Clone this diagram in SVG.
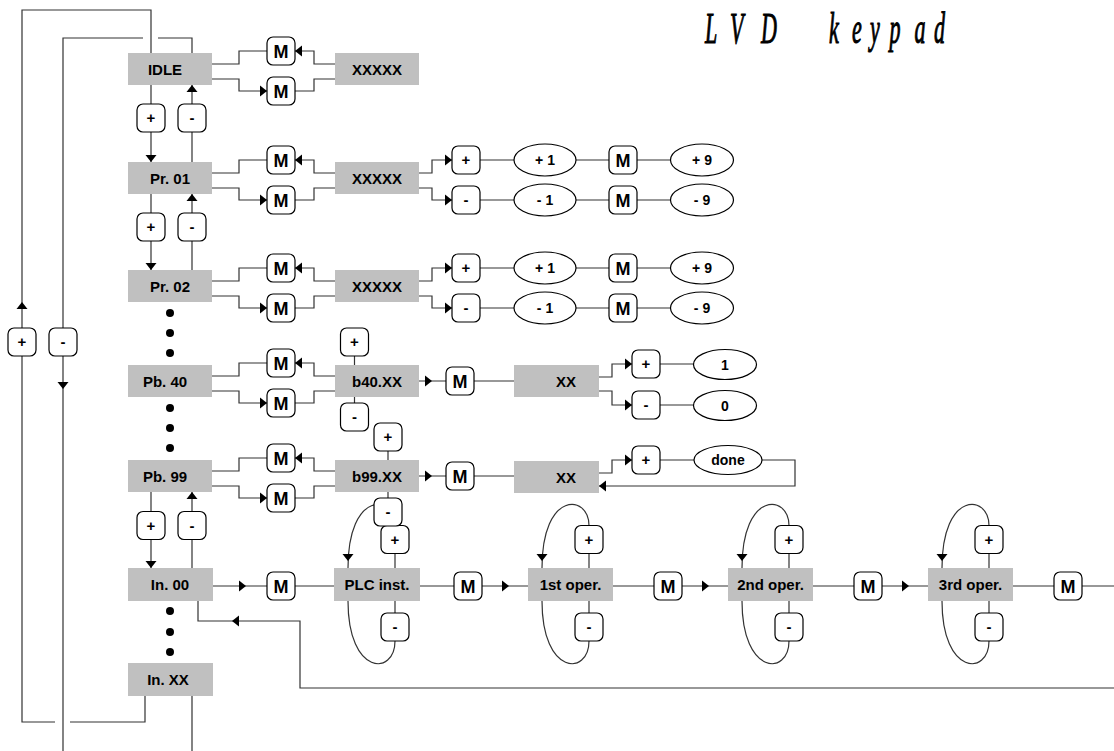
<svg xmlns="http://www.w3.org/2000/svg" xmlns:xlink="http://www.w3.org/1999/xlink" width="1114" height="751" viewBox="0 0 1114 751">
<style>
.box{fill:#c0c0c0}
.btn{fill:#fff;stroke:#000;stroke-width:1.2}
.ln{fill:none;stroke:#333;stroke-width:1.2}
.ah{fill:#000}
.t{font-family:"Liberation Sans",Arial,sans-serif;font-weight:bold;font-size:15px;text-anchor:middle;fill:#000}
.tm{font-size:18px}
.te{font-size:14px}
.dot{fill:#000}
.title{font-family:"Liberation Serif","Times New Roman",serif;font-style:italic;font-size:44px;fill:#000;stroke:#000;stroke-width:1.1}
</style>
<defs>
<path id="ar" class="ah" d="M0,0 L-7,-5.5 L-7,5.5 Z"/>
</defs>
<rect width="1114" height="751" fill="#fff"/>
<text class="title" transform="translate(0,43) scale(0.5,1)" x="1410 1436 1460 1490 1522 1590 1658 1684 1704 1724 1740 1760 1779 1804 1829 1850 1868" y="0">L V D k e y p a d</text>

<g id="connectors">
<path class="ln" d="M151,53 V10 H22 V722 H55 M70,722 H145 V696 M192,53 V38 H158 M143,38 H63 V751 M192,696 V751"/>
<use xlink:href="#ar" transform="translate(22,302) rotate(-90)"/>
<use xlink:href="#ar" transform="translate(63,389) rotate(90)"/>
<path class="ln" d="M151,85 V162 M192,162 V85 M151,194 V270 M192,270 V194 M151,492 V568 M192,568 V492"/>
<use xlink:href="#ar" transform="translate(151,162) rotate(90)"/>
<use xlink:href="#ar" transform="translate(192,85) rotate(-90)"/>
<use xlink:href="#ar" transform="translate(151,270) rotate(90)"/>
<use xlink:href="#ar" transform="translate(192,194) rotate(-90)"/>
<use xlink:href="#ar" transform="translate(151,568) rotate(90)"/>
<use xlink:href="#ar" transform="translate(192,492) rotate(-90)"/>
<path class="ln" d="M212,64 H239 V51 H267 M295,51 H314 V64 H335 M212,79 H239 V91 H267 M295,91 H314 V79 H335"/>
<path class="ln" d="M212,173 H239 V160 H267 M295,160 H314 V173 H335 M212,188 H239 V200 H267 M295,200 H314 V188 H335"/>
<path class="ln" d="M212,281 H239 V268 H267 M295,268 H314 V281 H335 M212,296 H239 V308 H267 M295,308 H314 V296 H335"/>
<path class="ln" d="M212,376 H239 V363 H267 M295,363 H314 V376 H335 M212,391 H239 V403 H267 M295,403 H314 V391 H335"/>
<path class="ln" d="M212,471 H239 V458 H267 M295,458 H314 V471 H335 M212,486 H239 V498 H267 M295,498 H314 V486 H335"/>
<use xlink:href="#ar" transform="translate(295,51) rotate(180)"/>
<use xlink:href="#ar" transform="translate(267,91)"/>
<use xlink:href="#ar" transform="translate(295,160) rotate(180)"/>
<use xlink:href="#ar" transform="translate(267,200)"/>
<use xlink:href="#ar" transform="translate(295,268) rotate(180)"/>
<use xlink:href="#ar" transform="translate(267,308)"/>
<use xlink:href="#ar" transform="translate(295,363) rotate(180)"/>
<use xlink:href="#ar" transform="translate(267,403)"/>
<use xlink:href="#ar" transform="translate(295,458) rotate(180)"/>
<use xlink:href="#ar" transform="translate(267,498)"/>
<path class="ln" d="M419,173 H432 V160 H452 M480,160 H514 M576,160 H609 M637,160 H670 M419,188 H432 V200 H452 M480,200 H514 M576,200 H609 M637,200 H670"/>
<path class="ln" d="M419,281 H432 V268 H452 M480,268 H514 M576,268 H609 M637,268 H670 M419,296 H432 V308 H452 M480,308 H514 M576,308 H609 M637,308 H670"/>
<use xlink:href="#ar" transform="translate(452,160)"/>
<use xlink:href="#ar" transform="translate(452,200)"/>
<use xlink:href="#ar" transform="translate(452,268)"/>
<use xlink:href="#ar" transform="translate(452,308)"/>
<path class="ln" d="M354.5,356 V365 M354.5,397 V403 M419,381 H446 M474,381 H514 M599,377 H612 V364 H632 M660,364 H693.5 M599,391 H612 V405 H632 M660,405 H693.5"/>
<use xlink:href="#ar" transform="translate(432,381)"/>
<use xlink:href="#ar" transform="translate(632,364)"/>
<use xlink:href="#ar" transform="translate(632,405)"/>
<path class="ln" d="M388,451 V460 M388,492 V498 M419,476 H446 M474,476 H514 M599,473 H612 V460 H632 M660,460 H694 M762,460 H795 V486 H599"/>
<use xlink:href="#ar" transform="translate(432,476)"/>
<use xlink:href="#ar" transform="translate(632,460)"/>
<use xlink:href="#ar" transform="translate(599,486) rotate(180)"/>
<path class="ln" d="M213,586 H267 M295,586 H334 M420,586 H454 M482,586 H528 M613,586 H654 M682,586 H728 M813,586 H854 M882,586 H928 M1013,586 H1054 M1082,586 H1114"/>
<use xlink:href="#ar" transform="translate(246,586)"/>
<use xlink:href="#ar" transform="translate(509,586)"/>
<use xlink:href="#ar" transform="translate(709,586)"/>
<use xlink:href="#ar" transform="translate(909,586)"/>
<path class="ln" d="M198,601 V621 H300 V688 H1114"/>
<use xlink:href="#ar" transform="translate(232,621) rotate(180)"/>
<path class="ln" d="M395,553.5 V568 M395,601 V613 M395,525.5 C395,494 348,490 348,568 M348,601 C348,676 395,676 395,641"/>
<path class="ln" d="M589,553.5 V568 M589,601 V613 M589,525.5 C589,494 542,490 542,568 M542,601 C542,676 589,676 589,641"/>
<path class="ln" d="M789,553.5 V568 M789,601 V613 M789,525.5 C789,494 742,490 742,568 M742,601 C742,676 789,676 789,641"/>
<path class="ln" d="M989,553.5 V568 M989,601 V613 M989,525.5 C989,494 942,490 942,568 M942,601 C942,676 989,676 989,641"/>
<use xlink:href="#ar" transform="translate(348,561) rotate(90)"/>
<use xlink:href="#ar" transform="translate(542,561) rotate(90)"/>
<use xlink:href="#ar" transform="translate(742,561) rotate(90)"/>
<use xlink:href="#ar" transform="translate(942,561) rotate(90)"/>
</g>

<g id="dots">
<circle class="dot" cx="170" cy="313" r="4"/><circle class="dot" cx="170" cy="333" r="4"/><circle class="dot" cx="170" cy="353" r="4"/>
<circle class="dot" cx="170" cy="408" r="4"/><circle class="dot" cx="170" cy="428" r="4"/><circle class="dot" cx="170" cy="448" r="4"/>
<circle class="dot" cx="170" cy="611" r="4"/><circle class="dot" cx="170" cy="632" r="4"/><circle class="dot" cx="170" cy="652" r="4"/>
</g>

<g id="n-idle"><rect class="box" x="128" y="53" width="84" height="32"/><text class="t" x="165" y="74.5">IDLE</text></g>
<g id="n-idle-val"><rect class="box" x="335" y="53" width="84" height="32"/><text class="t" x="377" y="74.5">XXXXX</text></g>
<g id="n-pr01"><rect class="box" x="128" y="162" width="84" height="32"/><text class="t" x="170" y="183.5">Pr. 01</text></g>
<g id="n-pr01-val"><rect class="box" x="335" y="162" width="84" height="32"/><text class="t" x="377" y="183.5">XXXXX</text></g>
<g id="n-pr02"><rect class="box" x="128" y="270" width="84" height="32"/><text class="t" x="170" y="291.5">Pr. 02</text></g>
<g id="n-pr02-val"><rect class="box" x="335" y="270" width="84" height="32"/><text class="t" x="377" y="291.5">XXXXX</text></g>
<g id="n-pb40"><rect class="box" x="128" y="365" width="84" height="32"/><text class="t" x="165" y="386.5">Pb. 40</text></g>
<g id="n-b40"><rect class="box" x="335" y="365" width="84" height="32"/><text class="t" x="377" y="386.5">b40.XX</text></g>
<g id="n-b40-xx"><rect class="box" x="514" y="365" width="85" height="32"/><text class="t" x="566" y="386.5">XX</text></g>
<g id="n-pb99"><rect class="box" x="128" y="460" width="84" height="32"/><text class="t" x="165" y="481.5">Pb. 99</text></g>
<g id="n-b99"><rect class="box" x="335" y="460" width="84" height="32"/><text class="t" x="377" y="481.5">b99.XX</text></g>
<g id="n-b99-xx"><rect class="box" x="514" y="461" width="85" height="32"/><text class="t" x="566" y="482.5">XX</text></g>
<g id="n-in00"><rect class="box" x="128" y="568" width="85" height="33"/><text class="t" x="170" y="590">In. 00</text></g>
<g id="n-plc"><rect class="box" x="334" y="568" width="86" height="33"/><text class="t" x="377" y="590">PLC inst.</text></g>
<g id="n-op1"><rect class="box" x="528" y="568" width="85" height="33"/><text class="t" x="570.5" y="590">1st oper.</text></g>
<g id="n-op2"><rect class="box" x="728" y="568" width="85" height="33"/><text class="t" x="770.5" y="590">2nd oper.</text></g>
<g id="n-op3"><rect class="box" x="928" y="568" width="85" height="33"/><text class="t" x="970.5" y="590">3rd oper.</text></g>
<g id="n-inxx"><rect class="box" x="128" y="663" width="85" height="33"/><text class="t" x="168" y="685">In. XX</text></g>

<g id="m-idle-u"><rect class="btn" x="267" y="37" width="28" height="28" rx="6"/><text class="t tm" x="281" y="57.5">M</text></g>
<g id="m-idle-d"><rect class="btn" x="267" y="77" width="28" height="28" rx="6"/><text class="t tm" x="281" y="97.5">M</text></g>
<g id="m-pr01-u"><rect class="btn" x="267" y="146" width="28" height="28" rx="6"/><text class="t tm" x="281" y="166.5">M</text></g>
<g id="m-pr01-d"><rect class="btn" x="267" y="186" width="28" height="28" rx="6"/><text class="t tm" x="281" y="206.5">M</text></g>
<g id="m-pr02-u"><rect class="btn" x="267" y="254" width="28" height="28" rx="6"/><text class="t tm" x="281" y="274.5">M</text></g>
<g id="m-pr02-d"><rect class="btn" x="267" y="294" width="28" height="28" rx="6"/><text class="t tm" x="281" y="314.5">M</text></g>
<g id="m-pb40-u"><rect class="btn" x="267" y="349" width="28" height="28" rx="6"/><text class="t tm" x="281" y="369.5">M</text></g>
<g id="m-pb40-d"><rect class="btn" x="267" y="389" width="28" height="28" rx="6"/><text class="t tm" x="281" y="409.5">M</text></g>
<g id="m-pb99-u"><rect class="btn" x="267" y="444" width="28" height="28" rx="6"/><text class="t tm" x="281" y="464.5">M</text></g>
<g id="m-pb99-d"><rect class="btn" x="267" y="484" width="28" height="28" rx="6"/><text class="t tm" x="281" y="504.5">M</text></g>
<g id="m-pr01-p"><rect class="btn" x="609" y="146" width="28" height="28" rx="6"/><text class="t tm" x="623" y="166.5">M</text></g>
<g id="m-pr01-m"><rect class="btn" x="609" y="186" width="28" height="28" rx="6"/><text class="t tm" x="623" y="206.5">M</text></g>
<g id="m-pr02-p"><rect class="btn" x="609" y="254" width="28" height="28" rx="6"/><text class="t tm" x="623" y="274.5">M</text></g>
<g id="m-pr02-m"><rect class="btn" x="609" y="294" width="28" height="28" rx="6"/><text class="t tm" x="623" y="314.5">M</text></g>
<g id="m-b40"><rect class="btn" x="446" y="367" width="28" height="28" rx="6"/><text class="t tm" x="460" y="387.5">M</text></g>
<g id="m-b99"><rect class="btn" x="446" y="462" width="28" height="28" rx="6"/><text class="t tm" x="460" y="482.5">M</text></g>
<g id="m-in00"><rect class="btn" x="267" y="572" width="28" height="28" rx="6"/><text class="t tm" x="281" y="592.5">M</text></g>
<g id="m-plc"><rect class="btn" x="454" y="572" width="28" height="28" rx="6"/><text class="t tm" x="468" y="592.5">M</text></g>
<g id="m-op1"><rect class="btn" x="654" y="572" width="28" height="28" rx="6"/><text class="t tm" x="668" y="592.5">M</text></g>
<g id="m-op2"><rect class="btn" x="854" y="572" width="28" height="28" rx="6"/><text class="t tm" x="868" y="592.5">M</text></g>
<g id="m-op3"><rect class="btn" x="1054" y="572" width="28" height="28" rx="6"/><text class="t tm" x="1068" y="592.5">M</text></g>

<g id="k-left-p"><rect class="btn" x="8" y="328" width="28" height="28" rx="6"/><text class="t" x="22" y="347">+</text></g>
<g id="k-left-m"><rect class="btn" x="49" y="328" width="28" height="28" rx="6"/><text class="t" x="63" y="347">-</text></g>
<g id="k-idle-p"><rect class="btn" x="137" y="104" width="28" height="28" rx="6"/><text class="t" x="151" y="123">+</text></g>
<g id="k-idle-m"><rect class="btn" x="178" y="104" width="28" height="28" rx="6"/><text class="t" x="192" y="123">-</text></g>
<g id="k-pr01-p"><rect class="btn" x="137" y="213" width="28" height="28" rx="6"/><text class="t" x="151" y="232">+</text></g>
<g id="k-pr01-m"><rect class="btn" x="178" y="213" width="28" height="28" rx="6"/><text class="t" x="192" y="232">-</text></g>
<g id="k-pb99-p"><rect class="btn" x="137" y="511.5" width="28" height="28" rx="6"/><text class="t" x="151" y="530.5">+</text></g>
<g id="k-pb99-m"><rect class="btn" x="178" y="511.5" width="28" height="28" rx="6"/><text class="t" x="192" y="530.5">-</text></g>
<g id="k-pr01v-p"><rect class="btn" x="452" y="146" width="28" height="28" rx="6"/><text class="t" x="466" y="165">+</text></g>
<g id="k-pr01v-m"><rect class="btn" x="452" y="186" width="28" height="28" rx="6"/><text class="t" x="466" y="205">-</text></g>
<g id="k-pr02v-p"><rect class="btn" x="452" y="254" width="28" height="28" rx="6"/><text class="t" x="466" y="273">+</text></g>
<g id="k-pr02v-m"><rect class="btn" x="452" y="294" width="28" height="28" rx="6"/><text class="t" x="466" y="313">-</text></g>
<g id="k-b40-p"><rect class="btn" x="340.5" y="328" width="28" height="28" rx="6"/><text class="t" x="354.5" y="347">+</text></g>
<g id="k-b40-m"><rect class="btn" x="340.5" y="403" width="28" height="28" rx="6"/><text class="t" x="354.5" y="422">-</text></g>
<g id="k-xx40-p"><rect class="btn" x="632" y="350" width="28" height="28" rx="6"/><text class="t" x="646" y="369">+</text></g>
<g id="k-xx40-m"><rect class="btn" x="632" y="391" width="28" height="28" rx="6"/><text class="t" x="646" y="410">-</text></g>
<g id="k-b99-p"><rect class="btn" x="374" y="423" width="28" height="28" rx="6"/><text class="t" x="388" y="442">+</text></g>
<g id="k-xx99-p"><rect class="btn" x="632" y="446" width="28" height="28" rx="6"/><text class="t" x="646" y="465">+</text></g>
<g id="k-plc-p"><rect class="btn" x="381" y="525.5" width="28" height="28" rx="6"/><text class="t" x="395" y="544.5">+</text></g>
<g id="k-plc-m"><rect class="btn" x="381" y="613" width="28" height="28" rx="6"/><text class="t" x="395" y="632">-</text></g>
<g id="k-b99-m"><rect class="btn" x="374" y="498" width="28" height="28" rx="6"/><text class="t" x="388" y="517">-</text></g>
<g id="k-op1-p"><rect class="btn" x="575" y="525.5" width="28" height="28" rx="6"/><text class="t" x="589" y="544.5">+</text></g>
<g id="k-op1-m"><rect class="btn" x="575" y="613" width="28" height="28" rx="6"/><text class="t" x="589" y="632">-</text></g>
<g id="k-op2-p"><rect class="btn" x="775" y="525.5" width="28" height="28" rx="6"/><text class="t" x="789" y="544.5">+</text></g>
<g id="k-op2-m"><rect class="btn" x="775" y="613" width="28" height="28" rx="6"/><text class="t" x="789" y="632">-</text></g>
<g id="k-op3-p"><rect class="btn" x="975" y="525.5" width="28" height="28" rx="6"/><text class="t" x="989" y="544.5">+</text></g>
<g id="k-op3-m"><rect class="btn" x="975" y="613" width="28" height="28" rx="6"/><text class="t" x="989" y="632">-</text></g>

<g id="e-pr01-p1"><ellipse class="btn" cx="545" cy="160" rx="31" ry="16"/><text class="t te" x="545" y="165">+ 1</text></g>
<g id="e-pr01-p9"><ellipse class="btn" cx="702" cy="160" rx="31.5" ry="16"/><text class="t te" x="702" y="165">+ 9</text></g>
<g id="e-pr01-m1"><ellipse class="btn" cx="545" cy="200" rx="31" ry="16"/><text class="t te" x="545" y="205">- 1</text></g>
<g id="e-pr01-m9"><ellipse class="btn" cx="702" cy="200" rx="31.5" ry="16"/><text class="t te" x="702" y="205">- 9</text></g>
<g id="e-pr02-p1"><ellipse class="btn" cx="545" cy="268" rx="31" ry="16"/><text class="t te" x="545" y="273">+ 1</text></g>
<g id="e-pr02-p9"><ellipse class="btn" cx="702" cy="268" rx="31.5" ry="16"/><text class="t te" x="702" y="273">+ 9</text></g>
<g id="e-pr02-m1"><ellipse class="btn" cx="545" cy="308" rx="31" ry="16"/><text class="t te" x="545" y="313">- 1</text></g>
<g id="e-pr02-m9"><ellipse class="btn" cx="702" cy="308" rx="31.5" ry="16"/><text class="t te" x="702" y="313">- 9</text></g>
<g id="e-b40-1"><ellipse class="btn" cx="725" cy="364.5" rx="31.5" ry="15"/><text class="t te" x="725" y="369.5">1</text></g>
<g id="e-b40-0"><ellipse class="btn" cx="725" cy="405.5" rx="31.5" ry="15"/><text class="t te" x="725" y="410.5">0</text></g>
<g id="e-b99-done"><ellipse class="btn" cx="728" cy="460" rx="34" ry="14.5"/><text class="t te" x="728" y="465">done</text></g>
</svg>
